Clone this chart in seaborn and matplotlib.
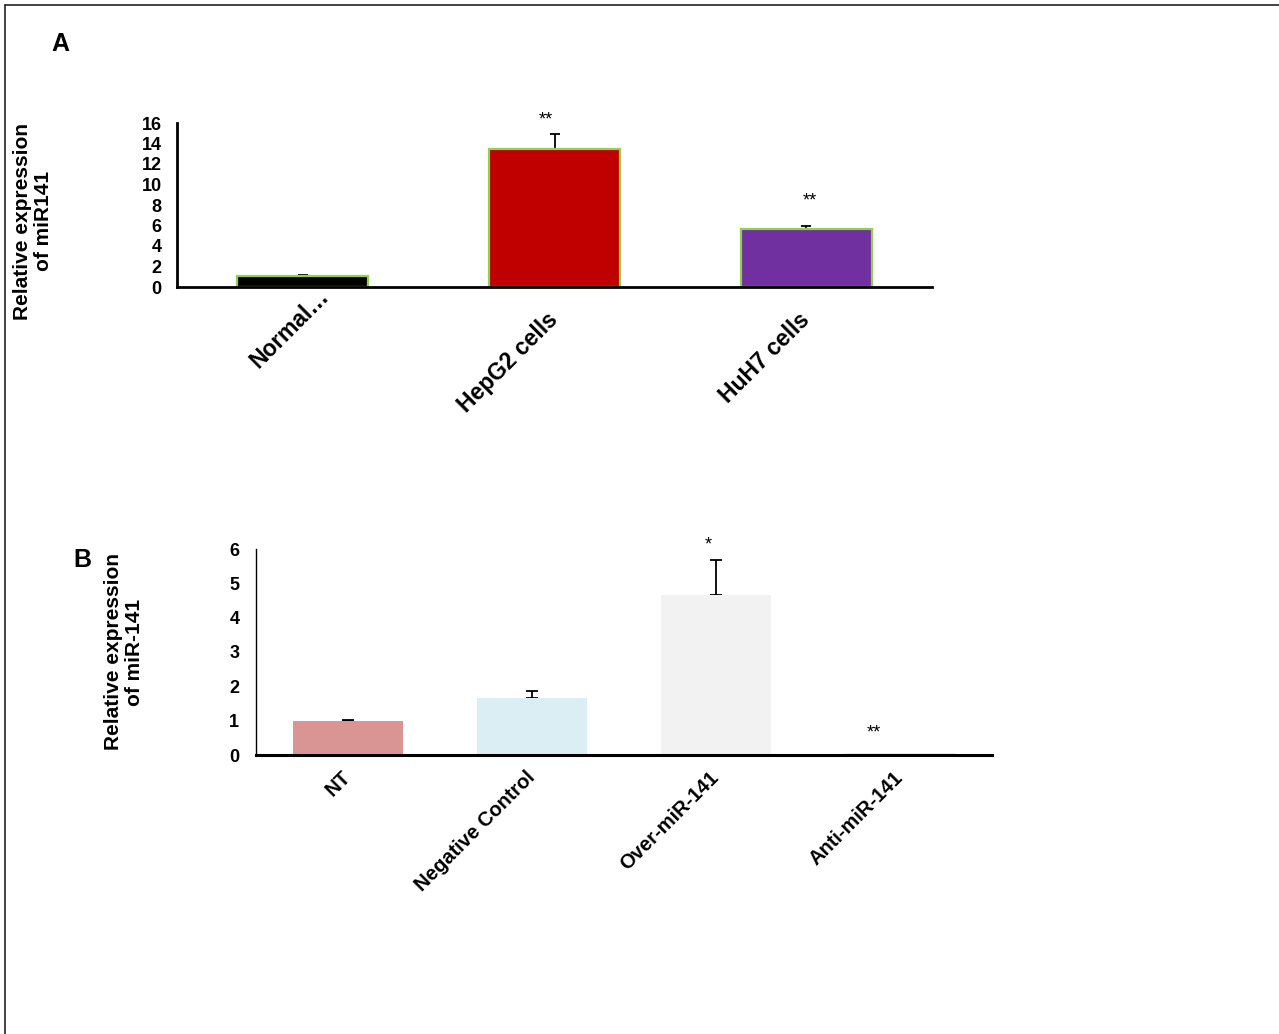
import matplotlib
matplotlib.use("Agg")
import matplotlib.pyplot as plt
from matplotlib.lines import Line2D
import seaborn as sns
import numpy as np
import pandas as pd

# ---------------- data ----------------
cats_a = ["Normal…", "HepG2 cells", "HuH7 cells"]
vals_a = [1.1, 13.5, 5.7]
errs_a = [0.05, 1.4, 0.25]
stars_a = ["", "**", "**"]
colors_a = ["#000000", "#c00000", "#7030a0"]

cats_b = ["NT", "Negative Control", "Over-miR-141", "Anti-miR-141"]
vals_b = [1.0, 1.65, 4.65, 0.04]
errs_b = [0.01, 0.22, 1.02, 0.0]
stars_b = ["", "", "*", "**"]
colors_b = ["#d99594", "#daeef3", "#f2f2f2", "#d9d9d9"]

yticks_a = [0, 2, 4, 6, 8, 10, 12, 14, 16]
yticks_b = [0, 1, 2, 3, 4, 5, 6]

sns.set_style("white")
plt.rcParams["font.family"] = ["Liberation Sans", "DejaVu Sans"]
for k in ["text.color", "axes.labelcolor", "xtick.color", "ytick.color", "axes.edgecolor"]:
    plt.rcParams[k] = "black"

W, H = 1279, 1034
fig = plt.figure(figsize=(W / 100, H / 100), dpi=100)


def px_axes(left, top, right, bottom):
    return fig.add_axes([left / W, 1 - bottom / H, (right - left) / W, (bottom - top) / H])


# ---------------- Panel A ----------------
axA = px_axes(177, 123, 932, 287)
dfA = pd.DataFrame({"cat": cats_a, "val": vals_a})
sns.barplot(data=dfA, x="cat", y="val", hue="cat", palette=colors_a, order=cats_a,
            hue_order=cats_a, legend=False, width=0.52, edgecolor="#92d050",
            linewidth=1.6, errorbar=None, ax=axA, saturation=1)
xa = np.arange(len(cats_a))
axA.errorbar(xa, vals_a, yerr=[np.zeros(len(errs_a)), errs_a], fmt="none",
             ecolor="black", elinewidth=1.3, capsize=3.5, capthick=1.3, zorder=0.5)
star_ya = [0, 16.3, 8.4]
star_dxa = [0, -0.036, 0.014]
for i, s in enumerate(stars_a):
    if s:
        axA.text(xa[i] + star_dxa[i], star_ya[i], s, ha="center", va="center",
                 fontsize=13, clip_on=False)
axA.set_xlim(-0.5, len(cats_a) - 0.5)
axA.set_ylim(0, 16)
axA.set_yticks(yticks_a)
axA.set_yticklabels([str(t) for t in yticks_a], fontsize=13, fontweight="bold")
axA.set_xticks(xa)
# first (truncated) label is placed separately, as Excel shifted it up/right
axA.set_xticklabels([""] + cats_a[1:], fontsize=16.5, fontweight="bold", rotation=45,
                    ha="right", va="center", rotation_mode="anchor")
axA.annotate(cats_a[0], xy=(xa[0], 0), xycoords=axA.get_xaxis_transform(),
             xytext=(16, -4), textcoords="offset points", fontsize=16.5,
             fontweight="bold", rotation=45, ha="right", va="center",
             rotation_mode="anchor", annotation_clip=False)
axA.set_xticks(np.arange(-0.5, len(cats_a)), minor=True)
axA.tick_params(axis="x", which="major", length=0, pad=21)
axA.tick_params(axis="x", which="minor", length=5, width=2, direction="out")
axA.tick_params(axis="y", length=4, width=2, direction="out", pad=7)
for side in ["top", "right"]:
    axA.spines[side].set_visible(False)
axA.spines["left"].set_linewidth(2)
axA.spines["bottom"].set_linewidth(2)
axA.set_xlabel("")
axA.set_ylabel("")
fig.text(33 / W, 1 - 221 / H, "Relative expression\nof miR141", rotation=90,
         ha="center", va="center", fontsize=15, fontweight="bold", linespacing=1.15,
         multialignment="center")
fig.text(60 / W, 1 - 44 / H, "A", ha="center", va="center", fontsize=18, fontweight="bold")

# ---------------- Panel B ----------------
axB = px_axes(256, 549, 992, 755)
dfB = pd.DataFrame({"cat": cats_b, "val": vals_b})
sns.barplot(data=dfB, x="cat", y="val", hue="cat", palette=colors_b, order=cats_b,
            hue_order=cats_b, legend=False, width=0.6, linewidth=0,
            errorbar=None, ax=axB, saturation=1)
axB.patches[3].set_edgecolor("#a6a6a6")
axB.patches[3].set_linewidth(1)
xb = np.arange(len(cats_b))
axB.errorbar(xb[:3], vals_b[:3], yerr=[np.zeros(3), errs_b[:3]], fmt="none",
             ecolor="black", elinewidth=1.3, capsize=4, capthick=1.3, zorder=0.5)
star_yb = [0, 0, 6.12, 0.64]
star_dxb = [0, 0, -0.04, -0.14]
for i, s in enumerate(stars_b):
    if s:
        axB.text(xb[i] + star_dxb[i], star_yb[i], s, ha="center", va="center",
                 fontsize=13, clip_on=False)
axB.set_xlim(-0.5, len(cats_b) - 0.5)
axB.set_ylim(0, 6)
axB.set_yticks(yticks_b)
axB.set_yticklabels([str(t) for t in yticks_b], fontsize=13, fontweight="bold")
axB.set_xticks(xb)
axB.set_xticklabels(cats_b, fontsize=14.5, fontweight="bold", rotation=45,
                    ha="right", va="center", rotation_mode="anchor")
axB.set_xticks(np.arange(-0.5, len(cats_b)), minor=True)
axB.tick_params(axis="x", which="major", length=0, pad=14)
axB.tick_params(axis="x", which="minor", length=5, width=2, direction="out")
axB.tick_params(axis="y", length=6, width=1, direction="out", pad=6)
for side in ["top", "right"]:
    axB.spines[side].set_visible(False)
axB.spines["left"].set_linewidth(1)
axB.spines["bottom"].set_linewidth(2.2)
axB.set_xlabel("")
axB.set_ylabel("")
fig.text(124 / W, 1 - 652 / H, "Relative expression\nof miR-141", rotation=90,
         ha="center", va="center", fontsize=15, fontweight="bold", linespacing=1.15,
         multialignment="center")
fig.text(82 / W, 1 - 560 / H, "B", ha="center", va="center", fontsize=18, fontweight="bold")

# ---------------- frame lines ----------------
fig.add_artist(Line2D([5 / W, 5 / W], [0, 1 - 5 / H], color="#222222", lw=1.2))
fig.add_artist(Line2D([5 / W, 1], [1 - 5 / H, 1 - 5 / H], color="#222222", lw=1.2))

fig.savefig("out.png", dpi=100, facecolor="white")
